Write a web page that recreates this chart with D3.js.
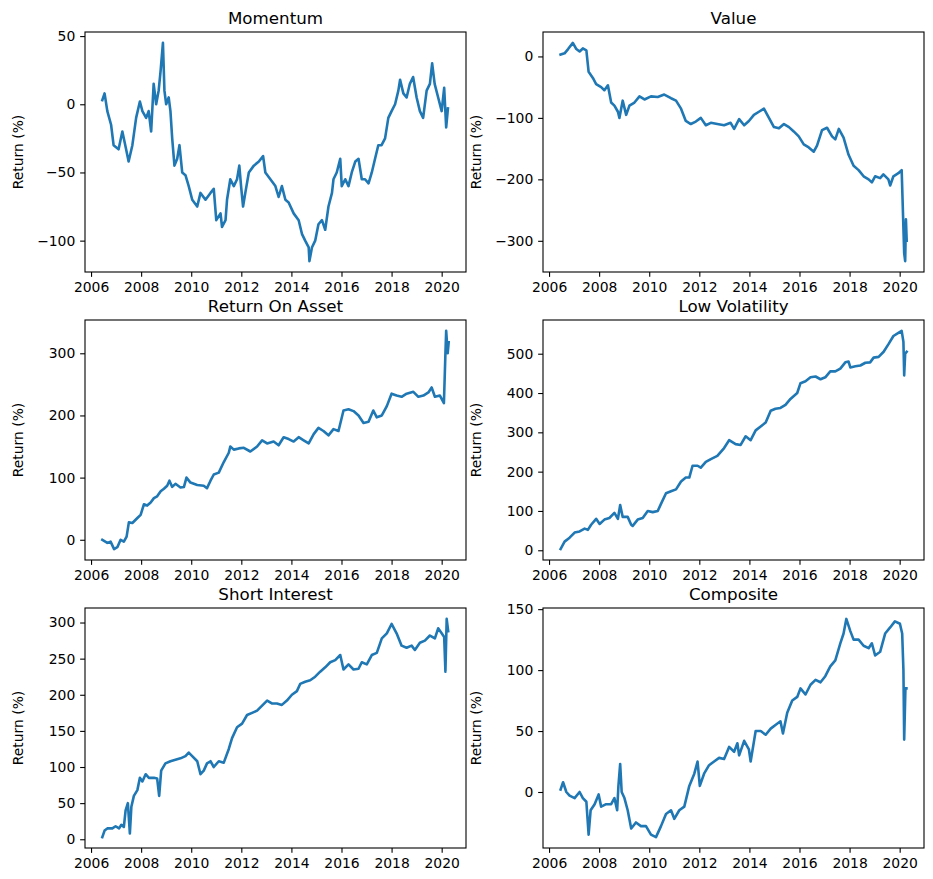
<!DOCTYPE html>
<html>
<head>
<meta charset="utf-8">
<script src="https://cdn.jsdelivr.net/npm/d3@7"></script>
<style>
  html, body { margin: 0; padding: 0; background: #fff; }
  svg { display: block; font-family: "DejaVu Sans", sans-serif; }
</style>
</head>
<body>
<svg id="chart" width="933" height="879"></svg>
<script>
// ---------------- data (year, return %) ----------------
const xTickYears = [2006, 2008, 2010, 2012, 2014, 2016, 2018, 2020];

const momentum = [
  [2006.45,3],[2006.54,8],[2006.65,-5],[2006.8,-15],[2006.9,-30],[2007.1,-33],[2007.25,-20],[2007.4,-33],
  [2007.5,-42],[2007.65,-30],[2007.8,-10],[2007.95,2],[2008.05,-5],[2008.2,-10],[2008.3,-5],[2008.4,-20],
  [2008.5,15],[2008.6,0],[2008.7,10],[2008.78,25],[2008.87,45],[2008.93,10],[2009.0,0],[2009.1,5],
  [2009.17,-5],[2009.24,-25],[2009.33,-45],[2009.44,-40],[2009.53,-30],[2009.64,-50],[2009.77,-52],[2009.9,-60],
  [2010.04,-70],[2010.24,-75],[2010.37,-65],[2010.57,-70],[2010.77,-65],[2010.9,-62],[2011.0,-85],[2011.17,-80],
  [2011.23,-90],[2011.37,-85],[2011.43,-70],[2011.56,-55],[2011.7,-60],[2011.83,-55],[2011.92,-45],[2011.99,-60],
  [2012.07,-75],[2012.16,-65],[2012.3,-50],[2012.5,-45],[2012.7,-42],[2012.87,-38],[2012.96,-50],[2013.16,-55],
  [2013.36,-60],[2013.49,-68],[2013.62,-60],[2013.76,-70],[2013.89,-72],[2014.09,-80],[2014.29,-85],[2014.42,-95],
  [2014.55,-100],[2014.69,-105],[2014.72,-115],[2014.82,-105],[2014.95,-100],[2015.08,-88],[2015.22,-85],[2015.35,-92],
  [2015.48,-75],[2015.62,-65],[2015.68,-55],[2015.81,-50],[2015.95,-40],[2016.01,-60],[2016.15,-55],[2016.28,-60],
  [2016.41,-50],[2016.55,-42],[2016.68,-40],[2016.81,-55],[2016.94,-55],[2017.08,-58],[2017.21,-50],[2017.34,-40],
  [2017.47,-30],[2017.6,-30],[2017.74,-25],[2017.87,-10],[2018.0,-5],[2018.14,0],[2018.27,10],[2018.34,18],
  [2018.47,8],[2018.6,5],[2018.73,15],[2018.86,20],[2019.0,5],[2019.13,-5],[2019.26,-10],[2019.4,10],
  [2019.53,15],[2019.62,30],[2019.72,15],[2019.86,5],[2020.0,-5],[2020.1,12],[2020.18,-17],[2020.25,-3]
];

const value = [
  [2006.46,3],[2006.62,5],[2006.76,12],[2006.95,22],[2007.09,12],[2007.22,8],[2007.35,13],[2007.49,10],
  [2007.58,-25],[2007.75,-35],[2007.88,-45],[2008.08,-50],[2008.21,-55],[2008.35,-47],[2008.48,-75],[2008.61,-80],
  [2008.75,-90],[2008.81,-100],[2008.94,-72],[2009.08,-95],[2009.21,-80],[2009.41,-75],[2009.61,-65],[2009.81,-70],
  [2010.07,-65],[2010.34,-66],[2010.6,-62],[2010.87,-68],[2011.07,-72],[2011.27,-85],[2011.46,-105],[2011.66,-110],
  [2011.86,-106],[2012.06,-100],[2012.26,-112],[2012.46,-108],[2012.72,-110],[2012.99,-112],[2013.25,-108],[2013.39,-118],
  [2013.59,-102],[2013.79,-112],[2013.98,-105],[2014.18,-95],[2014.38,-90],[2014.58,-85],[2014.78,-100],[2014.98,-115],
  [2015.18,-117],[2015.38,-110],[2015.58,-115],[2015.77,-122],[2015.97,-130],[2016.17,-143],[2016.37,-148],[2016.57,-155],
  [2016.7,-145],[2016.9,-120],[2017.1,-116],[2017.3,-130],[2017.43,-135],[2017.57,-118],[2017.76,-132],[2017.96,-160],
  [2018.16,-178],[2018.36,-185],[2018.56,-195],[2018.76,-200],[2018.89,-205],[2019.02,-195],[2019.22,-198],[2019.35,-192],
  [2019.55,-200],[2019.62,-210],[2019.75,-195],[2019.95,-190],[2020.08,-185],[2020.18,-320],[2020.22,-333],[2020.25,-265],
  [2020.28,-300]
];

const returnOnAsset = [
  [2006.45,0],[2006.65,-5],[2006.78,-3],[2006.92,-15],[2007.05,-12],[2007.18,0],[2007.31,-3],[2007.42,5],
  [2007.51,28],[2007.65,27],[2007.85,35],[2007.98,40],[2008.11,57],[2008.24,55],[2008.38,60],[2008.51,67],
  [2008.64,70],[2008.78,78],[2008.91,82],[2009.04,87],[2009.13,95],[2009.24,85],[2009.37,90],[2009.57,84],
  [2009.71,85],[2009.81,100],[2009.97,92],[2010.24,88],[2010.5,87],[2010.63,83],[2010.77,95],[2010.9,105],
  [2011.1,108],[2011.3,125],[2011.5,140],[2011.56,150],[2011.7,145],[2011.9,147],[2012.1,148],[2012.36,142],
  [2012.63,150],[2012.83,160],[2013.03,155],[2013.29,158],[2013.49,152],[2013.69,165],[2013.89,162],[2014.09,158],
  [2014.29,165],[2014.49,160],[2014.69,155],[2014.89,170],[2015.08,180],[2015.28,175],[2015.48,168],[2015.68,178],
  [2015.88,175],[2016.08,208],[2016.28,210],[2016.48,207],[2016.68,200],[2016.88,188],[2017.08,190],[2017.27,208],
  [2017.41,197],[2017.61,200],[2017.81,215],[2018.0,235],[2018.2,232],[2018.4,230],[2018.6,235],[2018.87,238],
  [2019.07,230],[2019.27,232],[2019.47,237],[2019.6,245],[2019.73,230],[2019.93,232],[2020.09,220],[2020.15,300],
  [2020.18,336],[2020.24,300],[2020.28,318]
];

const lowVolatility = [
  [2006.46,3],[2006.62,22],[2006.82,32],[2007.02,45],[2007.22,48],[2007.42,55],[2007.55,52],[2007.68,65],
  [2007.88,80],[2008.02,67],[2008.21,78],[2008.41,82],[2008.61,95],[2008.75,80],[2008.84,115],[2008.94,85],
  [2009.14,85],[2009.28,65],[2009.34,62],[2009.54,78],[2009.74,82],[2009.94,100],[2010.14,97],[2010.34,100],
  [2010.47,118],[2010.67,145],[2010.87,150],[2011.07,155],[2011.27,175],[2011.46,185],[2011.6,185],[2011.73,215],
  [2011.93,215],[2012.06,210],[2012.26,225],[2012.46,232],[2012.72,240],[2012.99,260],[2013.19,280],[2013.32,275],
  [2013.45,270],[2013.65,268],[2013.85,290],[2014.05,280],[2014.25,305],[2014.45,315],[2014.65,325],[2014.85,355],
  [2015.04,360],[2015.24,362],[2015.44,370],[2015.64,385],[2015.91,400],[2016.04,425],[2016.24,430],[2016.44,440],
  [2016.64,442],[2016.84,435],[2017.03,440],[2017.23,455],[2017.43,455],[2017.63,462],[2017.83,478],[2017.96,480],
  [2018.03,465],[2018.23,468],[2018.43,470],[2018.63,477],[2018.82,478],[2018.96,490],[2019.16,492],[2019.36,505],
  [2019.56,525],[2019.75,545],[2019.95,553],[2020.08,558],[2020.15,530],[2020.18,445],[2020.22,500],[2020.28,505]
];

const shortInterest = [
  [2006.45,3],[2006.54,12],[2006.65,15],[2006.85,15],[2006.98,18],[2007.12,15],[2007.21,20],[2007.31,17],
  [2007.38,40],[2007.47,50],[2007.55,8],[2007.61,45],[2007.71,60],[2007.85,68],[2007.95,85],[2008.05,80],
  [2008.18,90],[2008.31,85],[2008.51,85],[2008.64,84],[2008.72,60],[2008.8,95],[2008.97,105],[2009.17,108],
  [2009.37,110],[2009.57,112],[2009.77,115],[2009.9,120],[2010.04,115],[2010.24,108],[2010.37,90],[2010.5,95],
  [2010.63,105],[2010.77,108],[2010.9,100],[2011.1,108],[2011.3,106],[2011.5,125],[2011.63,140],[2011.83,155],
  [2012.03,160],[2012.23,172],[2012.43,175],[2012.63,178],[2012.83,185],[2013.03,192],[2013.22,188],[2013.42,188],
  [2013.62,186],[2013.82,192],[2014.02,200],[2014.22,205],[2014.35,215],[2014.55,218],[2014.75,220],[2014.95,225],
  [2015.15,232],[2015.35,238],[2015.55,245],[2015.75,248],[2015.95,255],[2016.08,235],[2016.28,242],[2016.48,235],
  [2016.68,236],[2016.81,245],[2017.01,242],[2017.21,255],[2017.41,258],[2017.61,278],[2017.81,285],[2018.0,298],
  [2018.2,285],[2018.4,268],[2018.6,265],[2018.8,268],[2018.93,262],[2019.13,272],[2019.33,275],[2019.53,282],
  [2019.73,278],[2019.86,292],[2020.0,285],[2020.1,280],[2020.15,232],[2020.2,305],[2020.26,288]
];

const composite = [
  [2006.46,2],[2006.56,8],[2006.69,0],[2006.82,-3],[2007.02,-5],[2007.22,0],[2007.35,-5],[2007.49,-8],
  [2007.58,-35],[2007.66,-15],[2007.82,-10],[2007.98,-2],[2008.08,-12],[2008.28,-10],[2008.48,-10],[2008.61,-5],
  [2008.72,-15],[2008.77,5],[2008.84,23],[2008.9,0],[2009.01,-5],[2009.14,-15],[2009.28,-30],[2009.47,-25],
  [2009.67,-28],[2009.87,-28],[2010.07,-35],[2010.27,-37],[2010.47,-28],[2010.67,-18],[2010.87,-15],[2011.0,-22],
  [2011.2,-15],[2011.4,-12],[2011.6,5],[2011.8,15],[2011.93,25],[2012.02,5],[2012.19,15],[2012.39,22],
  [2012.59,25],[2012.79,28],[2012.99,27],[2013.19,37],[2013.39,33],[2013.52,40],[2013.59,30],[2013.79,42],
  [2013.98,35],[2014.05,25],[2014.25,50],[2014.45,50],[2014.65,47],[2014.85,52],[2015.04,55],[2015.24,58],
  [2015.34,48],[2015.51,65],[2015.71,75],[2015.91,78],[2016.04,85],[2016.24,80],[2016.44,88],[2016.64,92],
  [2016.84,90],[2017.03,95],[2017.23,103],[2017.43,108],[2017.63,122],[2017.76,130],[2017.87,142],[2018.03,132],
  [2018.16,125],[2018.36,125],[2018.56,120],[2018.76,118],[2018.89,122],[2019.02,112],[2019.22,115],[2019.42,130],
  [2019.62,135],[2019.81,140],[2020.01,138],[2020.1,130],[2020.15,100],[2020.18,43],[2020.23,85],[2020.27,85]
];

const titles = ["Momentum", "Value", "Return On Asset", "Low Volatility", "Short Interest", "Composite"];
const series = [momentum, value, returnOnAsset, lowVolatility, shortInterest, composite];
const yTicks = [
  [-100, -50, 0, 50],
  [-300, -200, -100, 0],
  [0, 100, 200, 300],
  [0, 100, 200, 300, 400, 500],
  [0, 50, 100, 150, 200, 250, 300],
  [0, 50, 100, 150]
];
const yLabel = "Return (%)";

// ---------------- layout ----------------
const colLeft = [85, 543];
const rowTop = [32, 320, 608];
const W = 381, H = 240;
const tick = 4.86, pad = 4.86;
const color = "#1f77b4";

const svg = d3.select("#chart");

// shared x domain with matplotlib-style 5% margins
const allX = series.flatMap(s => s.map(d => d[0]));
const [x0, x1] = d3.extent(allX);
const xm = (x1 - x0) * 0.05;

series.forEach((data, i) => {
  const left = colLeft[i % 2];
  const top = rowTop[Math.floor(i / 2)];
  const g = svg.append("g").attr("transform", `translate(${left},${top})`);

  const x = d3.scaleLinear().domain([x0 - xm, x1 + xm]).range([0, W]);
  const [y0, y1] = d3.extent(data, d => d[1]);
  const ym = (y1 - y0) * 0.05;
  const y = d3.scaleLinear().domain([y0 - ym, y1 + ym]).range([H, 0]);

  // line
  g.append("path")
    .datum(data)
    .attr("fill", "none")
    .attr("stroke", color)
    .attr("stroke-width", 2.6)
    .attr("stroke-linejoin", "round")
    .attr("stroke-linecap", "square")
    .attr("d", d3.line().x(d => x(d[0])).y(d => y(d[1])));

  // axes
  const xAxis = g.append("g").attr("transform", `translate(0,${H})`)
    .call(d3.axisBottom(x).tickValues(xTickYears).tickFormat(d3.format("d"))
      .tickSizeInner(tick).tickSizeOuter(0).tickPadding(pad));
  const yAxis = g.append("g")
    .call(d3.axisLeft(y).tickValues(yTicks[i]).tickFormat(d3.format("d"))
      .tickSizeInner(tick).tickSizeOuter(0).tickPadding(pad));
  [xAxis, yAxis].forEach(a => {
    a.select(".domain").remove();
    a.selectAll("line").attr("stroke", "#000").attr("stroke-width", 1.1);
    a.selectAll("text").attr("fill", "#000")
      .style("font-family", "DejaVu Sans").style("font-size", "13.9px");
  });

  // spines
  g.append("rect").attr("x", 0).attr("y", 0).attr("width", W).attr("height", H)
    .attr("fill", "none").attr("stroke", "#000").attr("stroke-width", 1.1);

  // title
  g.append("text").attr("x", W / 2).attr("y", -8.3)
    .attr("text-anchor", "middle")
    .style("font-size", "16.7px").attr("fill", "#000")
    .text(titles[i]);

  // y label
  g.append("text")
    .attr("transform", `translate(${-67},${H / 2}) rotate(-90)`)
    .attr("text-anchor", "middle").attr("dominant-baseline", "central")
    .style("font-size", "13.9px").attr("fill", "#000")
    .text(yLabel);
});
</script>
</body>
</html>
